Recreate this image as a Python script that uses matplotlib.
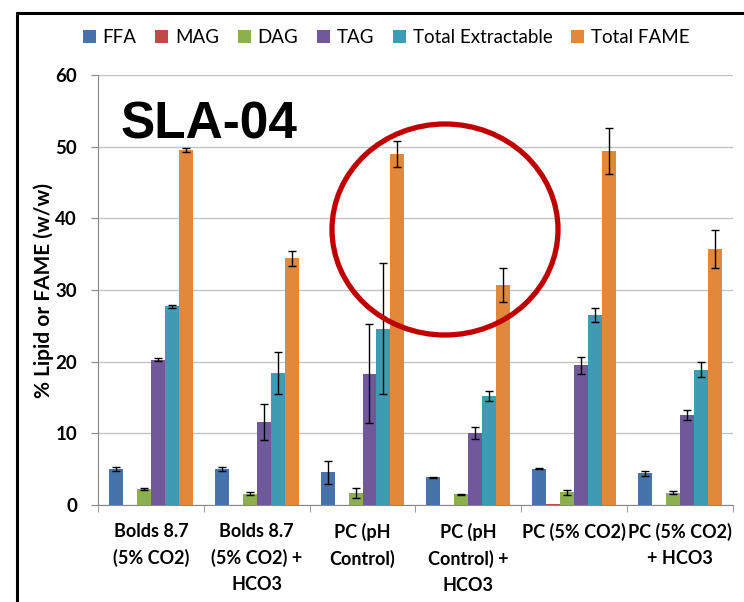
import numpy as np
import matplotlib
matplotlib.use("Agg")
import matplotlib.pyplot as plt
from matplotlib.patches import Ellipse, Rectangle

plt.rcParams['font.family'] = ['Lato', 'DejaVu Sans']

categories = ["Bolds 8.7\n(5% CO2)", "Bolds 8.7\n(5% CO2) +\nHCO3", "PC (pH\nControl)",
              "PC (pH\nControl) +\nHCO3", "PC (5% CO2)", "PC (5% CO2)\n+ HCO3"]
series = ["FFA", "MAG", "DAG", "TAG", "Total Extractable", "Total FAME"]
colors = ["#4673AB", "#BE4B48", "#8DB04F", "#71589A", "#3F9BB3", "#E1883C"]

ffa = [5.0, 5.0, 4.55, 3.85, 5.05, 4.4]
ffa_err = [0.25, 0.3, 1.6, 0.1, 0.05, 0.4]
mag = [0.05, 0.05, 0.05, 0.05, 0.1, 0.05]
mag_err = [0, 0, 0, 0, 0, 0]
dag = [2.2, 1.6, 1.7, 1.5, 1.8, 1.72]
dag_err = [0.15, 0.2, 0.7, 0.1, 0.35, 0.2]
tag = [20.3, 11.6, 18.3, 10.0, 19.5, 12.55]
tag_err = [0.2, 2.55, 6.9, 0.85, 1.2, 0.7]
total_extr = [27.7, 18.4, 24.6, 15.2, 26.5, 18.9]
total_extr_err = [0.2, 2.9, 9.1, 0.7, 0.95, 1.05]
total_fame = [49.5, 34.4, 49.0, 30.7, 49.4, 35.7]
total_fame_err = [0.3, 1.0, 1.85, 2.4, 3.15, 2.65]

values = [ffa, mag, dag, tag, total_extr, total_fame]
errors = [ffa_err, mag_err, dag_err, tag_err, total_extr_err, total_fame_err]

fig = plt.figure(figsize=(7.44, 6.02), dpi=100)
ax = fig.add_axes([0.1317, 0.1611, 0.8533, 0.7143])

x = np.arange(len(categories))
w = 0.132
for i, (name, vals, errs, c) in enumerate(zip(series, values, errors, colors)):
    pos = x + (i - 2.5) * w
    ax.bar(pos, vals, w, color=c, label=name, zorder=2)
    if name != "MAG":
        ax.errorbar(pos, vals, yerr=errs, fmt="none", ecolor="black",
                    elinewidth=1, capsize=3, capthick=1, zorder=3)

ax.set_xlim(-0.5, len(categories) - 0.5)
ax.set_ylim(0, 60)
ax.set_yticks(range(0, 61, 10))
ax.set_yticklabels([str(v) for v in range(0, 61, 10)], fontsize=13.5, fontweight="bold")
ax.yaxis.grid(True, color="#c4c4c4", lw=1, zorder=0)
ax.set_axisbelow(True)
ax.set_xticks(x)
ax.set_xticklabels(categories, fontsize=13, fontweight="bold", linespacing=1.6)
ax.set_xticks(np.arange(-0.5, len(categories)), minor=True)
ax.tick_params(axis="x", which="major", length=0, pad=13)
ax.tick_params(axis="x", which="minor", length=5, color="#888888")
ax.tick_params(axis="y", length=5, color="#888888", pad=10)
for s in ["top", "right"]:
    ax.spines[s].set_visible(False)
for s in ["left", "bottom"]:
    ax.spines[s].set_color("#888888")
ax.set_ylabel("% Lipid or FAME (w/w)", fontsize=15, fontweight="bold")
ax.yaxis.set_label_coords(-0.07, 0.5)

ax.text(0.035, 0.94, "SLA-04", transform=ax.transAxes, fontsize=37,
        fontweight="bold", family=["Liberation Sans", "DejaVu Sans"], va="top", ha="left")

ell = Ellipse((445 / 744, 1 - 229.5 / 602), 226 / 744, 211 / 602, transform=fig.transFigure,
              fill=False, edgecolor="#C00000", lw=3.8, zorder=5)
fig.patches.append(ell)

frame = Rectangle((17 / 744, -0.2), 1.2, 1.2 - 13 / 602, transform=fig.transFigure,
                  fill=False, edgecolor="black", lw=2.2)
fig.patches.append(frame)

fig.legend(loc="center", bbox_to_anchor=(0.519, 0.937), ncol=6, frameon=False,
           fontsize=13.5, handlelength=0.7, handleheight=0.7, handletextpad=0.35,
           columnspacing=1.0)

fig.savefig("out.png", dpi=100)
